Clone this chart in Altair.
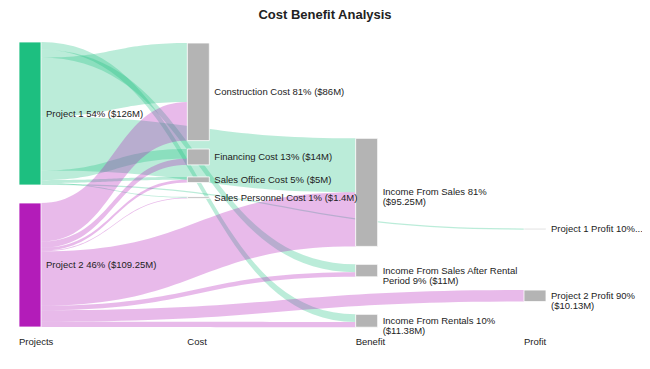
import altair as alt
import numpy as np
import pandas as pd

# ---------------- data ----------------
chart_title = "Cost Benefit Analysis"
column_names = ["Projects", "Cost", "Benefit", "Profit"]

node_names = ["Project 1", "Project 2",
              "Construction Cost", "Financing Cost", "Sales Office Cost", "Sales Personnel Cost",
              "Income From Sales", "Income From Sales After Rental Period", "Income From Rentals",
              "Project 1 Profit", "Project 2 Profit"]
node_column = [0, 0, 1, 1, 1, 1, 2, 2, 2, 3, 3]

project_names = ["Project 1", "Project 2"]
project_colors = ["#1DBF80", "#B31CB9"]
node_fill = "#B4B4B4"

# links, listed in the order they leave each project (top to bottom)
link_source = ["Project 1"] * 8 + ["Project 2"] * 8
link_target = ["Income From Rentals", "Income From Sales After Rental Period", "Construction Cost",
               "Income From Sales", "Financing Cost", "Sales Office Cost", "Sales Personnel Cost",
               "Project 1 Profit",
               "Construction Cost", "Financing Cost", "Sales Office Cost", "Sales Personnel Cost",
               "Income From Sales", "Income From Sales After Rental Period", "Project 2 Profit",
               "Income From Rentals"]
link_value = [6.71, 7.0, 52.0, 47.5, 8.5, 2.5, 0.7, 1.09,
              34.0, 5.5, 2.5, 0.7, 47.75, 4.0, 10.13, 4.67]

# ---------------- layout parameters (pixels) ----------------
W, H, PAD_TOP = 634, 323, 30
COL_LEFT_PX, COL_STEP_PX, NODE_W_PX = 11, 168.33, 22
Y0_PX, EXTENT_PX, NODE_PAD_PX = 4, 285, 18
gap_above_px = [0, 18, 1, 8.4, 12, 14.3, 96.3, 17.9, 37.5, 186.4, 60.4]
wrap_chars = [40, 40, 30, 22]
LABEL_DY_PX = 14.7

# ---------------- sankey layout ----------------
idx = {n: i for i, n in enumerate(node_names)}
n_nodes = len(node_names)
out_sum = np.zeros(n_nodes)
in_sum = np.zeros(n_nodes)
for s, t, v in zip(link_source, link_target, link_value):
    out_sum[idx[s]] += v
    in_sum[idx[t]] += v
node_value = np.maximum(out_sum, in_sum)

col_total = {}
for c, v in zip(node_column, node_value):
    col_total[c] = col_total.get(c, 0) + v

k = (EXTENT_PX - NODE_PAD_PX) / col_total[0]  # px per $M
node_w = NODE_W_PX / COL_STEP_PX

y_top = np.zeros(n_nodes)
cursor = {}
for i, c in enumerate(node_column):
    cur = cursor.get(c, 0.0) + gap_above_px[i] / k
    y_top[i] = cur
    cursor[c] = cur + node_value[i]
y_bot = y_top + node_value


def wrap(text, width):
    lines, line = [], ""
    for w in text.split(" "):
        if line and len(line) + 1 + len(w) > width:
            lines.append(line)
            line = w
        else:
            line = (line + " " + w).strip()
    lines.append(line)
    return lines


node_rows = []
for i, name in enumerate(node_names):
    c = node_column[i]
    v = round(float(node_value[i]), 2)
    pct = round(v / col_total[c] * 100)
    full = f"{name} {pct}% (${v:g}M)"
    lines = wrap(full, wrap_chars[c])
    if len(lines) > 1 and node_value[i] * k < 8:
        label = lines[0] + "..."
    else:
        label = "\n".join(lines)
    color = project_colors[project_names.index(name)] if name in project_names else node_fill
    node_rows.append(dict(node=name, x0=c, x1=c + node_w, y0=y_top[i], y1=y_bot[i],
                          ym=(y_top[i] + y_bot[i]) / 2, color=color, label=label))
node_df = pd.DataFrame(node_rows)

src_off = {n: 0.0 for n in node_names}
tgt_off = {n: 0.0 for n in node_names}
t = np.linspace(0, 1, 41)
bx = 1.5 * t * (1 - t) + t ** 3
by = 3 * t ** 2 - 2 * t ** 3
link_rows = []
for li, (s, tg, v) in enumerate(zip(link_source, link_target, link_value)):
    si, ti = idx[s], idx[tg]
    sy0 = y_top[si] + src_off[s]
    ty0 = y_top[ti] + tgt_off[tg]
    src_off[s] += v
    tgt_off[tg] += v
    x0 = node_column[si] + node_w
    x1 = node_column[ti]
    color = project_colors[project_names.index(s)]
    for a, b in zip(bx, by):
        top = sy0 + (ty0 - sy0) * b
        link_rows.append(dict(link=f"L{li:02d}", x=x0 + (x1 - x0) * a,
                              ya=top, yb=top + v, color=color))
link_df = pd.DataFrame(link_rows)

col_df = pd.DataFrame(dict(name=column_names, x=list(range(len(column_names))),
                           y=[(EXTENT_PX + LABEL_DY_PX) / k] * len(column_names)))

xs = alt.Scale(domain=[-COL_LEFT_PX / COL_STEP_PX, (W - COL_LEFT_PX) / COL_STEP_PX], nice=False, zero=False)
ys = alt.Scale(domain=[-Y0_PX / k, (H - Y0_PX) / k], nice=False, zero=False, reverse=True)

FONT = "Liberation Sans"

links = alt.Chart(link_df).mark_area(orient="vertical", fillOpacity=0.3, strokeWidth=0).encode(
    x=alt.X("x:Q", scale=xs, axis=None),
    y=alt.Y("ya:Q", scale=ys, axis=None),
    y2="yb:Q",
    detail="link:N",
    color=alt.Color("color:N", scale=None),
)

shadows = alt.Chart(node_df).mark_rect(color="#000000", opacity=0.12, xOffset=1.5, yOffset=1.5).encode(
    x=alt.X("x0:Q", scale=xs, axis=None), x2="x1:Q",
    y=alt.Y("y0:Q", scale=ys, axis=None), y2="y1:Q",
)

nodes = alt.Chart(node_df).mark_rect(stroke="white", strokeWidth=0.8).encode(
    x=alt.X("x0:Q", scale=xs, axis=None), x2="x1:Q",
    y=alt.Y("y0:Q", scale=ys, axis=None), y2="y1:Q",
    color=alt.Color("color:N", scale=None),
)

labels = alt.Chart(node_df).mark_text(align="left", baseline="middle", dx=5, fontSize=9.5,
                                      font=FONT, color="#222222", lineBreak="\n",
                                      lineHeight=10).encode(
    x=alt.X("x1:Q", scale=xs, axis=None),
    y=alt.Y("ym:Q", scale=ys, axis=None),
    text="label:N",
)

col_labels = alt.Chart(col_df).mark_text(align="left", baseline="middle", fontSize=9.5,
                                         font=FONT, color="#222222").encode(
    x=alt.X("x:Q", scale=xs, axis=None),
    y=alt.Y("y:Q", scale=ys, axis=None),
    text="name:N",
)

chart = alt.layer(links, shadows, nodes, labels, col_labels).properties(
    width=W, height=H,
    autosize="none",
    padding={"top": PAD_TOP, "left": 0, "right": 0, "bottom": 0},
    title=alt.Title(chart_title, fontSize=13, font=FONT, fontWeight="bold", color="#222222",
                    anchor="middle", offset=16),
).configure_view(stroke=None)

chart.save("out.html", embed_options={"renderer": "svg", "actions": False})
